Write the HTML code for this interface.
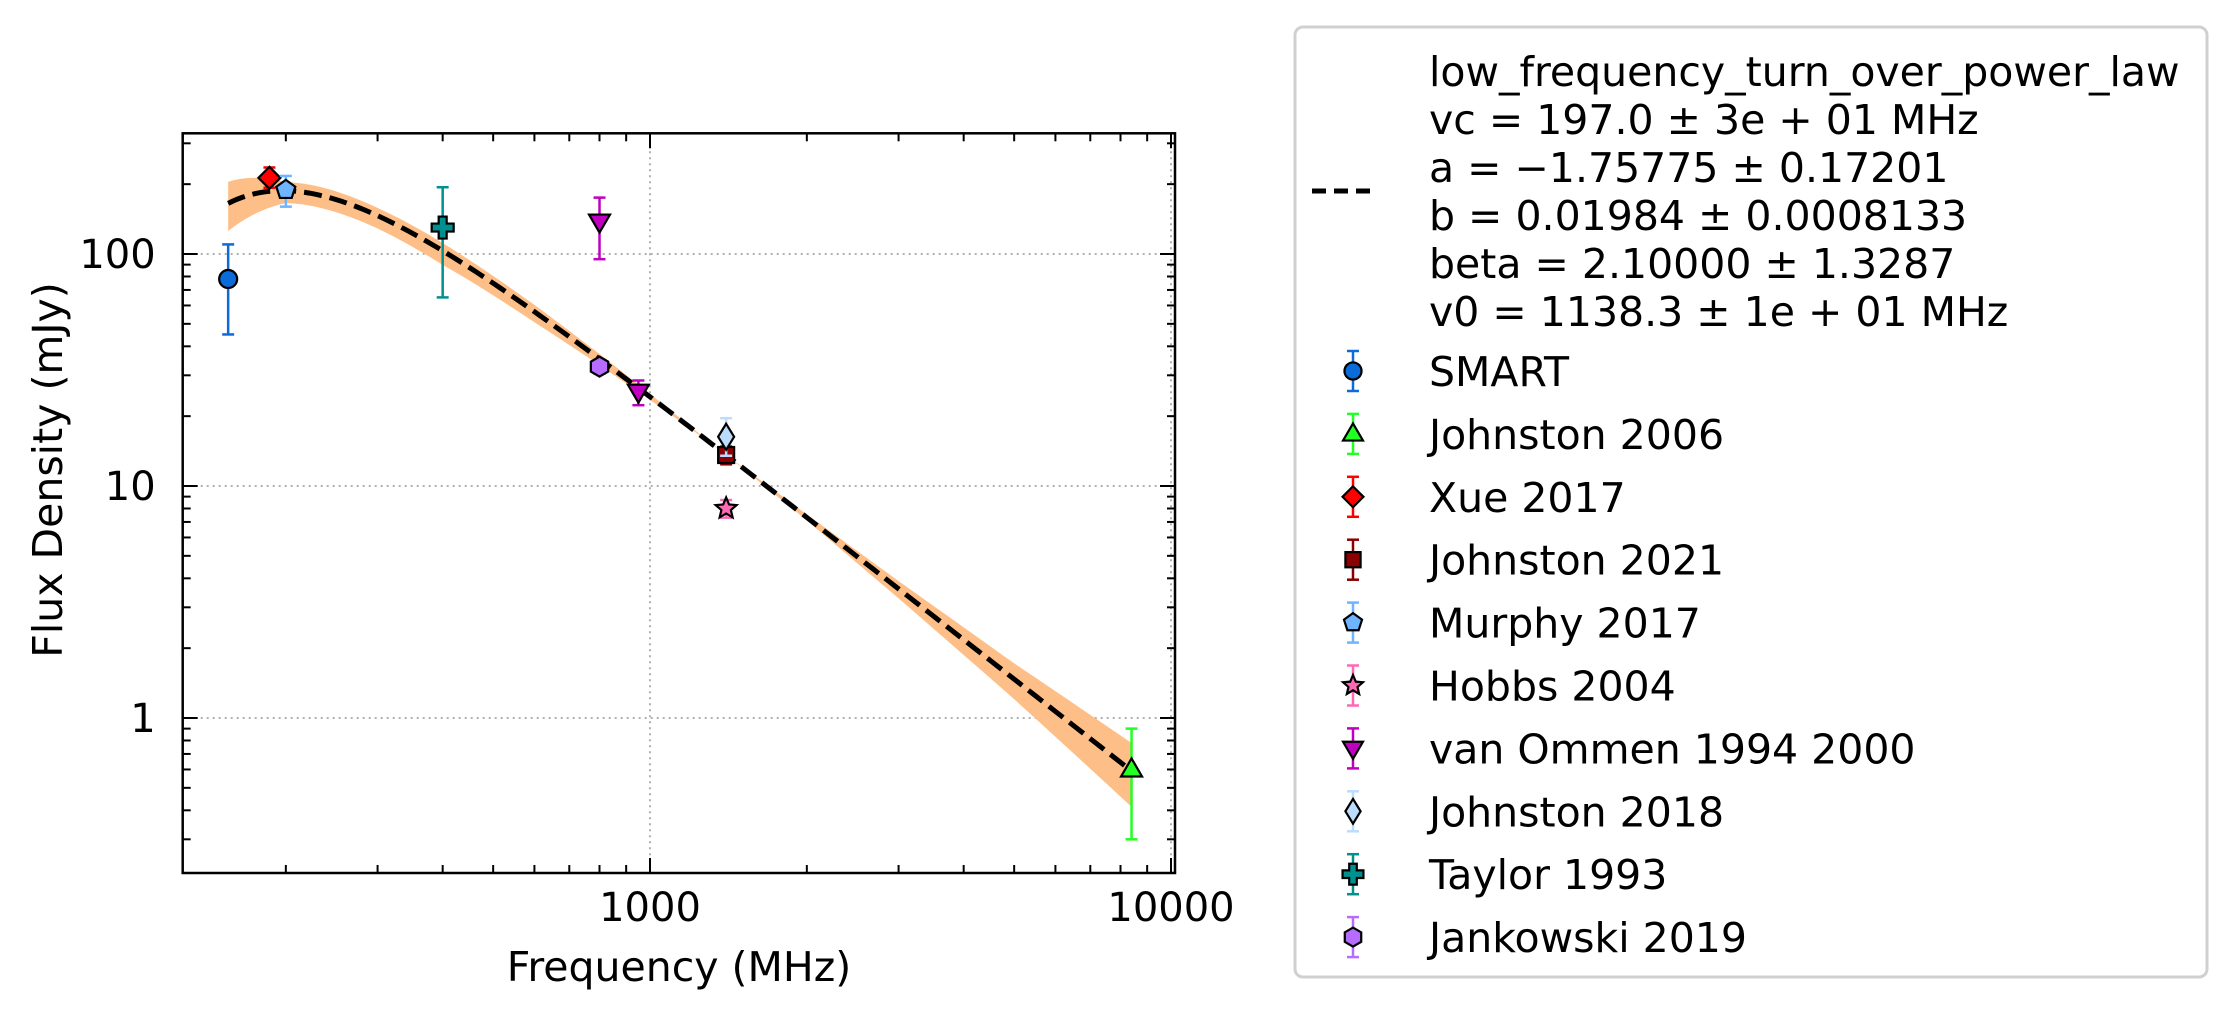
<!DOCTYPE html>
<html><head><meta charset="utf-8">
<style>
html,body{margin:0;padding:0;background:#fff;}
svg{display:block;font-family:"DejaVu Sans","Liberation Sans",sans-serif;}
</style></head>
<body>
<svg id="chart" width="2236" height="1018" viewBox="0 0 2236 1018" xmlns="http://www.w3.org/2000/svg">
  <rect x="0" y="0" width="2236" height="1018" fill="#fff"/>
  <g id="grid"></g>
  <g id="band"></g>
  <g id="fit"></g>
  <g id="points"></g>
  <g id="axes"></g>
  <text x="679" y="981" font-size="41" text-anchor="middle">Frequency (MHz)</text>
  <text transform="translate(62,470) rotate(-90)" font-size="41" text-anchor="middle">Flux Density (mJy)</text>
  <g id="legend"></g>
</svg>
<script>
// ---- data ----
const seriesNames = ["SMART","Johnston 2006","Xue 2017","Johnston 2021","Murphy 2017","Hobbs 2004","van Ommen 1994 2000","Johnston 2018","Taylor 1993","Jankowski 2019"];
const seriesFreq = [[155],[8400],[186],[1400],[200],[1400],[800,950],[1400],[400],[800]];
const seriesFlux = [[78],[0.6],[213],[13.6],[189],[8.0],[138,25.5],[16.3],[130],[32.7]];
const seriesErrLo = [[45],[0.3],[193],[12.4],[160],[7.3],[95,22.3],[13.5],[65],[30.5]];
const seriesErrHi = [[110],[0.9],[236],[14.8],[217],[8.7],[175,28.5],[19.6],[194],[35]];
const seriesColor = ["#0a6bd9","#22ff22","#ff0000","#8b0000","#6eb4ff","#ff69b4","#c000c0","#bcdcff","#009090","#b56cff"];
const seriesMarker = ["circle","triangle","diamond","square","pentagon","star","tridown","thindiamond","plus","hexagon"];
// fit parameters
const fitVc = 197.0, fitA = -1.75775, fitB = 0.01984, fitBeta = 2.10000, fitV0 = 1138.3;
const bandFreq = [155,200,300,400,600,800,1000,1200,1400,2000,3000,5000,8400];
const bandUpper = [1.24,1.09,1.08,1.08,1.07,1.05,1.03,1.01,1.0,1.03,1.08,1.17,1.32];
const bandLower = [0.76,0.885,0.88,0.87,0.9,0.94,0.97,0.99,1.0,0.97,0.91,0.82,0.70];
const xTicks = [1000,10000];
const xTickLabels = ["1000","10000"];
const yTicks = [1,10,100];
const yTickLabels = ["1","10","100"];

// ---- axes ----
const L=182.7, R=1175, T=133.3, B=873;
const xs = v => 650 + (Math.log10(v)-3)*521;
const ys = v => 254 - (Math.log10(v)-2)*232;
const NS="http://www.w3.org/2000/svg";
function mk(tag, attrs, parent){const e=document.createElementNS(NS,tag);for(const k in attrs)e.setAttribute(k,attrs[k]);parent.appendChild(e);return e;}
const grid=document.getElementById('grid'), axes=document.getElementById('axes');
xTicks.forEach((t,i)=>{
  const g=mk('line',{x1:xs(t),x2:xs(t),y1:T,y2:B,stroke:'#b0b0b0','stroke-width':2,'stroke-dasharray':'2,4'},grid);
   
  const tx=mk('text',{x:xs(t),y:921,'font-size':40,'text-anchor':'middle'},axes);
  tx.textContent=xTickLabels[i];
   
});
yTicks.forEach((t,i)=>{
  const g=mk('line',{x1:L,x2:R,y1:ys(t),y2:ys(t),stroke:'#b0b0b0','stroke-width':2,'stroke-dasharray':'2,4'},grid);
   
  const tx=mk('text',{x:L-27,y:ys(t)+14,'font-size':40,'text-anchor':'end'},axes);
  tx.textContent=yTickLabels[i];
   
});
for(let d=100; d<=10000; d*=10){for(let m=1;m<10;m++){const v=d*m;const x=xs(v);if(x<L||x>R)continue;const len=(m==1)?15:8;
  mk('line',{x1:x,x2:x,y1:B,y2:B-len,stroke:'#000','stroke-width':2},axes);
  mk('line',{x1:x,x2:x,y1:T,y2:T+len,stroke:'#000','stroke-width':2},axes);}}
for(let d=0.1; d<=1000; d*=10){for(let m=1;m<10;m++){const v=d*m;const y=ys(v);if(y<T||y>B)continue;const len=(m==1)?15:8;
  mk('line',{x1:L,x2:L+len,y1:y,y2:y,stroke:'#000','stroke-width':2},axes);
  mk('line',{x1:R,x2:R-len,y1:y,y2:y,stroke:'#000','stroke-width':2},axes);}}
const frame=mk('rect',{x:L,y:T,width:R-L,height:B-T,fill:'none',stroke:'#000','stroke-width':2.5},axes);
 

// ---- fit ----
const model = v => fitB*1000*Math.pow(v/fitV0,fitA)*Math.exp(fitA/fitBeta*Math.pow(v/fitVc,-fitBeta));
let up=[],lo=[];
for(let i=0;i<bandFreq.length-1;i++){
  for(let s=0;s<10;s++){const f=s/10;const lv=Math.log10(bandFreq[i])*(1-f)+Math.log10(bandFreq[i+1])*f;const v=Math.pow(10,lv);
    const u=bandUpper[i]*(1-f)+bandUpper[i+1]*f, l=bandLower[i]*(1-f)+bandLower[i+1]*f;
    up.push([xs(v),ys(model(v)*u)]);lo.push([xs(v),ys(model(v)*l)]);}
}
{const v=bandFreq[bandFreq.length-1];up.push([xs(v),ys(model(v)*bandUpper[bandUpper.length-1])]);lo.push([xs(v),ys(model(v)*bandLower[bandLower.length-1])]);}
const bandPath=mk('path',{d:'M'+up.map(p=>p.join(',')).join('L')+'L'+lo.reverse().map(p=>p.join(',')).join('L')+'Z',fill:'#fdbf87',stroke:'none'},document.getElementById('band'));
 
let fp=[];for(let i=0;i<=200;i++){const lv=Math.log10(155)+(Math.log10(8400)-Math.log10(155))*i/200;const v=Math.pow(10,lv);fp.push([xs(v),ys(model(v))]);}
const fitLine=mk('path',{d:'M'+fp.map(p=>p.join(',')).join('L'),fill:'none',stroke:'#000','stroke-width':5,'stroke-dasharray':'18,8'},document.getElementById('fit'));
 

// ---- markers ----
function marker(type,cx,cy,col,parent,s){
  s=s||1;let e;const ps=(pts)=>pts.map(p=>(cx+p[0]*s)+','+(cy+p[1]*s)).join(' ');
  const st={fill:col,stroke:'#000','stroke-width':2.2};
  if(type=='circle') e=mk('circle',Object.assign({cx:cx,cy:cy,r:9*s},st),parent);
  else if(type=='square') e=mk('rect',Object.assign({x:cx-8*s,y:cy-8*s,width:16*s,height:16*s},st),parent);
  else{let pts;
    if(type=='triangle') pts=[[0,-11],[10.5,7],[-10.5,7]];
    else if(type=='tridown') pts=[[0,11],[10.5,-7],[-10.5,-7]];
    else if(type=='diamond') pts=[[0,-11],[11,0],[0,11],[-11,0]];
    else if(type=='thindiamond') pts=[[0,-13],[8,0],[0,13],[-8,0]];
    else if(type=='plus') pts=[[-4,-11],[4,-11],[4,-4],[11,-4],[11,4],[4,4],[4,11],[-4,11],[-4,4],[-11,4],[-11,-4],[-4,-4]];
    else if(type=='pentagon'){pts=[];for(let k=0;k<5;k++){const a=-Math.PI/2+k*2*Math.PI/5;pts.push([10*Math.cos(a),10*Math.sin(a)]);}}
    else if(type=='hexagon'){pts=[];for(let k=0;k<6;k++){const a=-Math.PI/2+k*Math.PI/3;pts.push([10*Math.cos(a),10*Math.sin(a)]);}}
    else if(type=='star'){pts=[];for(let k=0;k<10;k++){const a=-Math.PI/2+k*Math.PI/5;const r=(k%2)?5:11;pts.push([r*Math.cos(a),r*Math.sin(a)]);}}
    e=mk('polygon',Object.assign({points:ps(pts)},st),parent);}
  return e;
}
function errbar(x,y1,y2,col,parent){
  mk('line',{x1:x,x2:x,y1:y1,y2:y2,stroke:col,'stroke-width':2.5},parent);
  mk('line',{x1:x-6,x2:x+6,y1:y1,y2:y1,stroke:col,'stroke-width':2.5},parent);
  mk('line',{x1:x-6,x2:x+6,y1:y2,y2:y2,stroke:col,'stroke-width':2.5},parent);
}
const pts=document.getElementById('points');
seriesNames.forEach((n,si)=>{
  const g=mk('g',{},pts);
  
  
  seriesFreq[si].forEach((f,j)=>{
    const x=xs(f);
    errbar(x,ys(seriesErrHi[si][j]),ys(seriesErrLo[si][j]),seriesColor[si],g);
    const m=marker(seriesMarker[si],x,ys(seriesFlux[si][j]),seriesColor[si],g);
    
    
  });
});

// ---- legend ----
const lg=document.getElementById('legend');
const box=mk('rect',{x:1295,y:27,width:912,height:950,rx:8,fill:'#fff',stroke:'#d0d0d0','stroke-width':3},lg);
 
mk('line',{x1:1312,x2:1370,y1:191,y2:191,stroke:'#000','stroke-width':5,'stroke-dasharray':'14,8'},lg);
const fitLines=["low_frequency_turn_over_power_law","vc = 197.0 \u00b1 3e + 01 MHz","a = \u22121.75775 \u00b1 0.17201","b = 0.01984 \u00b1 0.0008133","beta = 2.10000 \u00b1 1.3287","v0 = 1138.3 \u00b1 1e + 01 MHz"];
fitLines.forEach((t,i)=>{const tx=mk('text',{x:1429,y:86+i*48,'font-size':41},lg);tx.textContent=t;
   });
seriesNames.forEach((n,i)=>{
  const y=371+i*62.9;
  const g=mk('g',{},lg);
  
  
  errbar(1353,y-20,y+20,seriesColor[i],g);
  marker(seriesMarker[i],1353,y,seriesColor[i],g,0.95);
  const tx=mk('text',{x:1429,y:y+15,'font-size':41},g);tx.textContent=n;
});
</script>
</body></html>
